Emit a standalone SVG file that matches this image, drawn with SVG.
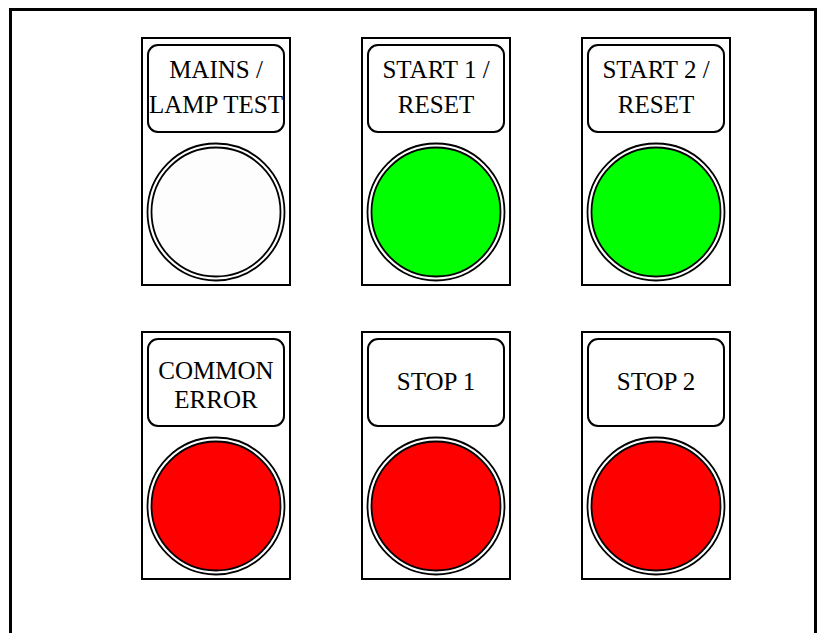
<svg xmlns="http://www.w3.org/2000/svg" width="817" height="633" viewBox="0 0 817 633">
  <style>
    .frame { fill: none; stroke: #000; stroke-width: 3; }
    .panel { fill: #fff; stroke: #000; stroke-width: 2; }
    .label { fill: #fff; stroke: #000; stroke-width: 2; }
    .ring { fill: #fff; stroke: #000; stroke-width: 1.8; }
    .lamp { stroke: #000; stroke-width: 1.8; }
    .white { fill: #fdfdfd; }
    .green { fill: #00ff00; }
    .red { fill: #ff0000; }
    text { font-family: "Liberation Serif", "Times New Roman", serif; font-size: 25px; fill: #000; text-anchor: middle; }
  </style>
  <defs>
    <!-- one indicator module: housing, legend plate and outer bezel ring -->
    <g id="module">
      <rect class="panel" x="-74" y="0" width="148" height="247"/>
      <rect class="label" x="-68" y="7" width="136" height="87" rx="10" ry="10"/>
      <circle class="ring" cx="0" cy="174" r="68.5"/>
    </g>
  </defs>

  <!-- enclosure outline -->
  <path class="frame" d="M10.5,640 V9.5 H815.5 V640"/>

  <g id="mains-lamp-test" transform="translate(216,38)">
    <use href="#module"/>
    <circle class="lamp white" cx="0" cy="174" r="64.5"/>
    <text x="0" y="40">MAINS /</text>
    <text x="0" y="75">LAMP TEST</text>
  </g>

  <g id="start1-reset" transform="translate(436,38)">
    <use href="#module"/>
    <circle class="lamp green" cx="0" cy="174" r="64.5"/>
    <text x="0" y="40">START 1 /</text>
    <text x="0" y="75">RESET</text>
  </g>

  <g id="start2-reset" transform="translate(656,38)">
    <use href="#module"/>
    <circle class="lamp green" cx="0" cy="174" r="64.5"/>
    <text x="0" y="40">START 2 /</text>
    <text x="0" y="75">RESET</text>
  </g>

  <g id="common-error" transform="translate(216,332)">
    <use href="#module"/>
    <circle class="lamp red" cx="0" cy="174" r="64.5"/>
    <text x="0" y="47">COMMON</text>
    <text x="0" y="76">ERROR</text>
  </g>

  <g id="stop1" transform="translate(436,332)">
    <use href="#module"/>
    <circle class="lamp red" cx="0" cy="174" r="64.5"/>
    <text x="0" y="58">STOP 1</text>
  </g>

  <g id="stop2" transform="translate(656,332)">
    <use href="#module"/>
    <circle class="lamp red" cx="0" cy="174" r="64.5"/>
    <text x="0" y="58">STOP 2</text>
  </g>

  <g id="connectors"/>
</svg>
